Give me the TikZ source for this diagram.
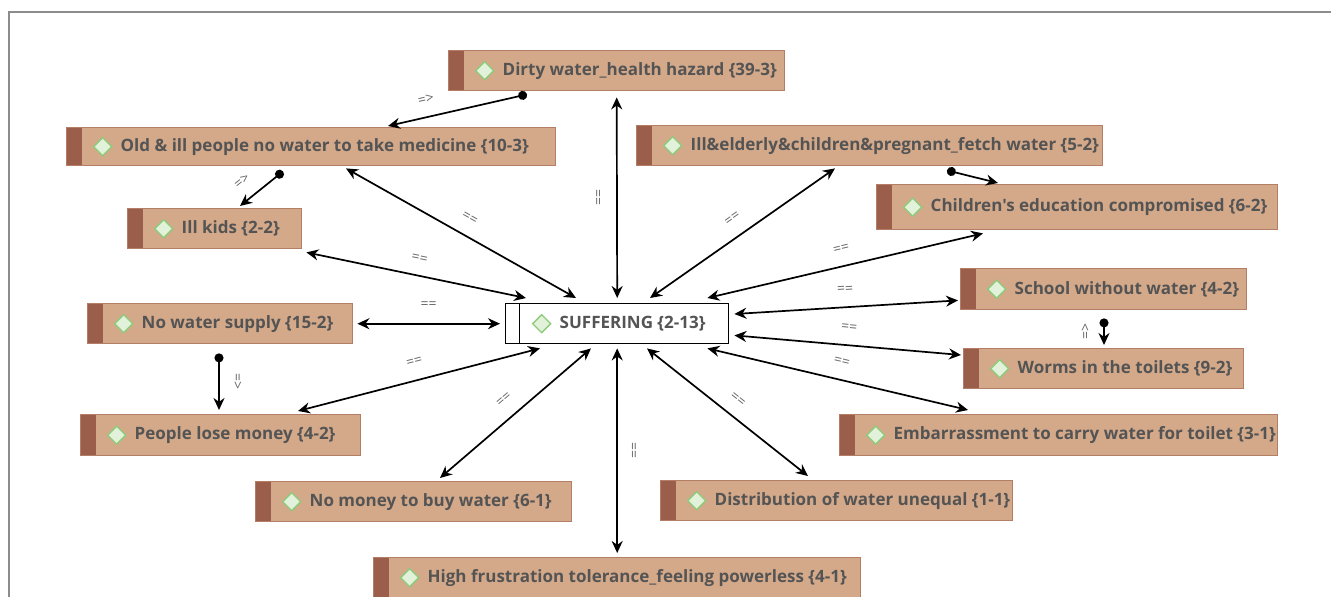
\documentclass[tikz,border=0pt]{standalone}
\usepackage{fontspec}
\usetikzlibrary{arrows.meta,calc}
\newfontfamily\nodefont{Open Sans}
\newfontfamily\tagfont{Open Sans}
\definecolor{tanfill}{HTML}{D4A98A}
\definecolor{tanedge}{HTML}{B47E66}
\definecolor{stripcol}{HTML}{9A5E4B}
\definecolor{gemfill}{HTML}{E2F2DA}
\definecolor{gemedge}{HTML}{8CCB7A}
\definecolor{textgray}{HTML}{545454}
\definecolor{linkgray}{HTML}{666666}
\definecolor{framegray}{HTML}{8C8C8C}
% fixed-width box content: room for the strip and the gem, then the text
\newcommand\conceptlabel[2]{\makebox[#1pt][l]{\hspace*{54pt}#2}}
\tikzset{
  gem/.style={fill=gemfill, draw=gemedge, line width=1.3pt},
  concept/.style={draw=tanedge, line width=1.4pt, fill=tanfill, anchor=north west,
    inner sep=0pt, minimum height=40pt, text=textgray,
    font=\nodefont\bfseries\fontsize{17}{20}\selectfont,
    path picture={
      \fill[stripcol] (path picture bounding box.north west) rectangle
        ([xshift=15pt]path picture bounding box.south west);
      \draw[gem] ([xshift=36pt]path picture bounding box.west)
        +(-9,0) -- +(0,-9) -- +(9,0) -- +(0,9) -- cycle;
    }},
  core/.style={concept, draw=black, fill=white,
    path picture={
      \draw[black, line width=1.4pt] ([xshift=14pt]path picture bounding box.north west) --
        ([xshift=14pt]path picture bounding box.south west);
      \draw[gem] ([xshift=36pt]path picture bounding box.west)
        +(-9,0) -- +(0,-9) -- +(9,0) -- +(0,9) -- cycle;
    }},
  link/.style={draw=black, line width=1.7pt,
    arrows={Stealth[length=12pt,width=11pt]-Stealth[length=12pt,width=11pt]}},
  lead/.style={draw=black, line width=1.7pt,
    arrows={Circle[length=9pt]-Stealth[length=12pt,width=11pt]}},
  tag/.style={font=\tagfont\fontsize{14}{14}\selectfont, text=linkgray, inner sep=1pt}
}
\begin{document}
\begin{tikzpicture}[x=1pt, y=-1pt]
\useasboundingbox (0,0) rectangle (1331,597);
% frame of the canvas
\draw[framegray, line width=1.2pt] (1331,12) -- (9,12) -- (9,597);

% concepts
\node[concept] (dirty)    at (448,50)  {\conceptlabel{336}{Dirty water\_health hazard \{39-3\}}};
\node[concept, minimum height=38pt] (old) at (66,127) {\conceptlabel{489}{Old \& ill people no water to take medicine \{10-3\}}};
\node[concept] (illeld)   at (636,125) {\conceptlabel{466}{Ill\&elderly\&children\&pregnant\_fetch water \{5-2\}}};
\node[concept, minimum height=45pt] (childedu) at (876,184) {\conceptlabel{401}{Children's education compromised \{6-2\}}};
\node[concept] (illkids)  at (127,208) {\conceptlabel{174}{Ill kids \{2-2\}}};
\node[concept, minimum height=41pt] (school) at (960,268) {\conceptlabel{286}{School without water \{4-2\}}};
\node[core]    (suf)      at (505,303) {\conceptlabel{223}{SUFFERING \{2-13\}}};
\node[concept] (nowater)  at (87,303)  {\conceptlabel{265}{No water supply \{15-2\}}};
\node[concept] (worms)    at (963,348) {\conceptlabel{280}{Worms in the toilets \{9-2\}}};
\node[concept, minimum height=41pt] (lose) at (80,414) {\conceptlabel{280}{People lose money \{4-2\}}};
\node[concept, minimum height=41pt] (embarr) at (839,414) {\conceptlabel{438}{Embarrassment to carry water for toilet \{3-1\}}};
\node[concept] (nomoney)  at (255,481) {\conceptlabel{316}{No money to buy water \{6-1\}}};
\node[concept] (distrib)  at (660,480) {\conceptlabel{352}{Distribution of water unequal \{1-1\}}};
\node[concept] (frust)    at (373,557) {\conceptlabel{487}{High frustration tolerance\_feeling powerless \{4-1\}}};

% links into SUFFERING
\draw[link] ($(dirty.south)+(0,6)$) -- node[tag, pos=.5, left=12pt] {\rotatebox{90}{==}} ($(suf.north)+(0,-5)$);
\draw[link] ($(old.south west)+(280,2)$) -- node[tag, pos=.5, sloped, above=12pt] {==} ($(suf.north west)+(71,-5)$);
\draw[link] ($(illkids.south east)+(4,3)$) -- node[tag, pos=.5, sloped, above=11pt] {==} ($(suf.north west)+(21,-5)$);
\draw[link] ($(nowater.east)+(4,0)$) -- node[tag, pos=.5, above=13pt] {==} ($(suf.west)+(-5,0)$);
\draw[link] ($(lose.north west)+(218,-3)$) -- node[tag, pos=.5, sloped, above=13pt] {==} ($(suf.south west)+(35,4)$);
\draw[link] ($(nomoney.north west)+(185,-3)$) -- node[tag, pos=.5, sloped, above=12pt] {==} ($(suf.south west)+(86,4)$);
\draw[link] ($(frust.north)+(0,-4)$) -- node[tag, pos=.5, right=13pt] {\rotatebox{90}{==}} ($(suf.south)+(0,4)$);
\draw[link] ($(distrib.north west)+(148,-4)$) -- node[tag, pos=.5, sloped, above=11pt] {==} ($(suf.south west)+(142,4)$);
\draw[link] ($(embarr.north west)+(129,-4)$) -- node[tag, pos=.5, sloped, above=12pt] {==} ($(suf.south east)+(-22,4)$);
\draw[link] ($(worms.north west)+(-2,7)$) -- node[tag, pos=.5, sloped, above=12pt] {==} ($(suf.south east)+(5,-9)$);
\draw[link] ($(school.south west)+(-2,-10)$) -- node[tag, pos=.5, sloped, above=12pt] {==} ($(suf.north east)+(5,11)$);
\draw[link] ($(childedu.south west)+(107,3)$) -- node[tag, pos=.5, sloped, above=12pt] {==} ($(suf.north east)+(-22,-5)$);
\draw[link] ($(illeld.south west)+(199,2)$) -- node[tag, pos=.5, sloped, above=12pt] {==} ($(suf.north west)+(145,-5)$);

% leads between concepts
\draw[lead] ($(dirty.south west)+(79,3)$) -- node[tag, pos=.7, sloped, above=11pt] {=>} ($(old.north west)+(322,-1)$);
\draw[lead] ($(old.south west)+(217,5)$) -- node[tag, pos=.69, sloped, above=12pt] {=>} ($(illkids.north west)+(113,-2)$);
\draw[lead] ($(illeld.south west)+(311,4)$) -- ($(childedu.north west)+(122,-1)$);
\draw[lead] ($(school.south west)+(144,8)$) -- node[tag, pos=.5, left=12pt] {\rotatebox{90}{=>}} ($(worms.north west)+(141,-3)$);
\draw[lead] ($(nowater.south west)+(132,9)$) -- node[tag, pos=.5, right=12pt] {\rotatebox{-90}{=>}} ($(lose.north west)+(139,-4)$);
\end{tikzpicture}
\end{document}
